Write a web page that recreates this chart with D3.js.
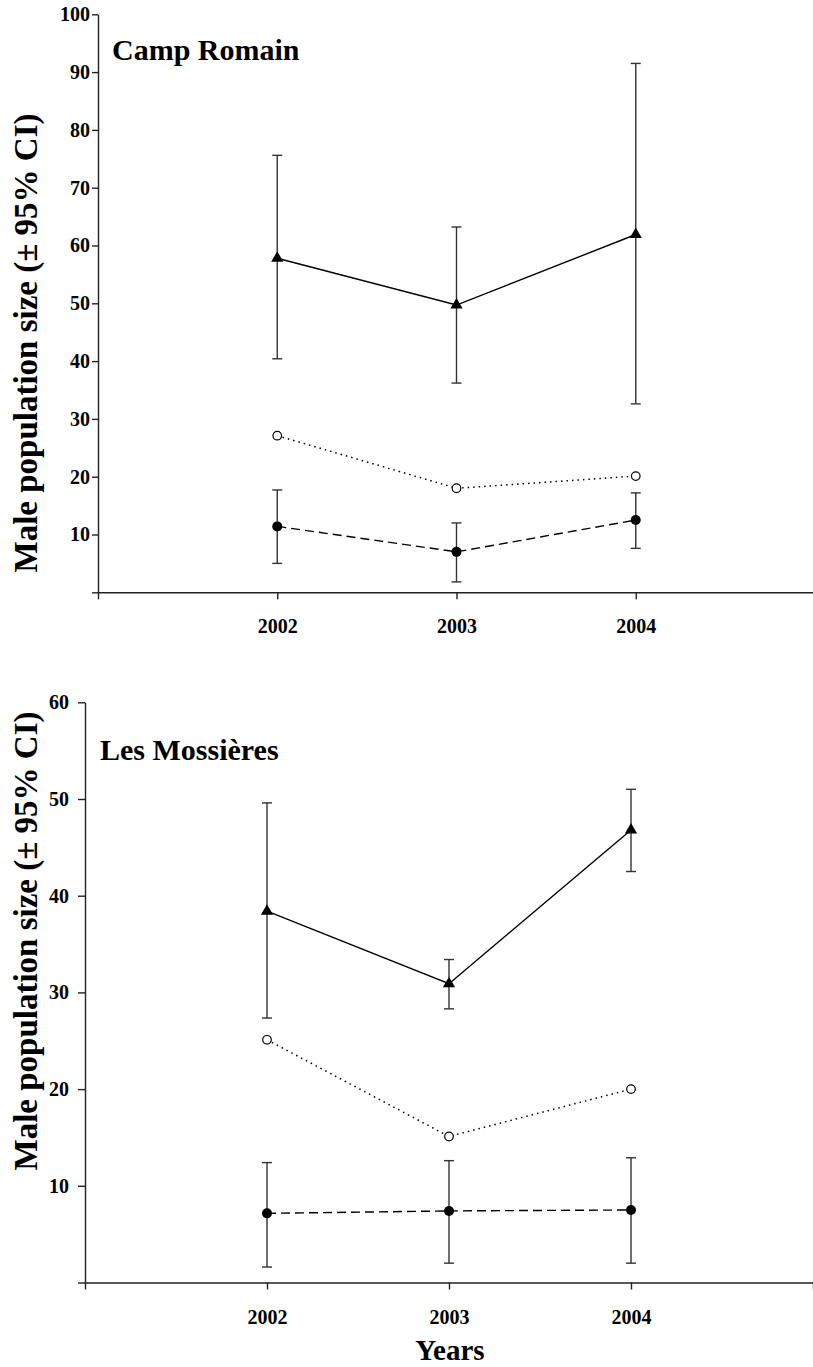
<!DOCTYPE html>
<html>
<head>
<meta charset="utf-8">
<script src="https://cdn.jsdelivr.net/npm/d3@7"></script>
<style>
  html, body { margin: 0; padding: 0; background: #fff; }
  svg { display: block; }
  text { font-family: "Liberation Serif", "Times New Roman", "DejaVu Serif", serif; font-weight: bold; fill: #000; }
</style>
</head>
<body>
<svg id="chart" width="813" height="1367"></svg>
<script>
// ---------- data ----------
const years = [2002, 2003, 2004];
const yearTickLabels = ["2002", "2003", "2004"];

// Camp Romain
const campTitle = "Camp Romain";
const campTri = [57.8, 49.7, 61.9];
const campTriLo = [40.4, 36.2, 32.6];
const campTriHi = [75.6, 63.2, 91.5];
const campOpen = [27.1, 18.0, 20.1];
const campFill = [11.4, 7.0, 12.5];
const campFillLo = [5.0, 1.8, 7.6];
const campFillHi = [17.7, 12.0, 17.2];
const campYTicks = [0, 10, 20, 30, 40, 50, 60, 70, 80, 90, 100];

// Les Mossières
const mossTitle = "Les Mossières";
const mossTri = [38.4, 30.9, 46.8];
const mossTriLo = [27.35, 28.3, 42.5];
const mossTriHi = [49.6, 33.4, 51.0];
const mossOpen = [25.1, 15.1, 20.0];
const mossFill = [7.15, 7.4, 7.5];
const mossFillLo = [1.6, 2.0, 2.0];
const mossFillHi = [12.4, 12.6, 12.9];
const mossYTicks = [0, 10, 20, 30, 40, 50, 60];

const yLabel = "Male population size (± 95% CI)";
const xLabel = "Years";
const xTicks = [2001, 2002, 2003, 2004, 2005];

// ---------- drawing ----------
const svg = d3.select("#chart");

function panel(cfg) {
  const g = svg.append("g");
  const x = d3.scaleLinear().domain([2001, 2005]).range([cfg.x0, cfg.x1]);
  const y = d3.scaleLinear().domain([0, cfg.ymax]).range([cfg.y0, cfg.y1]);

  // y axis
  const yAxis = d3.axisLeft(y)
    .tickValues(cfg.yTicks)
    .tickFormat(d => d === 0 ? "" : d)
    .tickSize(cfg.yTickSize).tickSizeOuter(0).tickPadding(cfg.yPad);
  const ya = g.append("g").attr("transform", `translate(${cfg.x0},0)`).call(yAxis);
  ya.selectAll("text").style("font-size", "20px").style("font-family", null);
  ya.selectAll("line, path").attr("stroke", "#222").attr("stroke-width", 1.4);

  // x axis
  const xAxis = d3.axisBottom(x)
    .tickValues(xTicks)
    .tickFormat(d => { const i = years.indexOf(d); return i >= 0 ? yearTickLabels[i] : ""; })
    .tickSize(7).tickSizeOuter(0).tickPadding(20);
  const xa = g.append("g").attr("transform", `translate(0,${cfg.y0})`).call(xAxis);
  xa.selectAll("text").style("font-size", "20px").style("font-family", null);
  xa.selectAll("line, path").attr("stroke", "#222").attr("stroke-width", 1.4);

  const line = d3.line().x((d, i) => x(years[i])).y(d => y(d));

  // lines
  g.append("path").datum(cfg.tri).attr("d", line)
    .attr("fill", "none").attr("stroke", "#000").attr("stroke-width", 1.4);
  g.append("path").datum(cfg.open).attr("d", line)
    .attr("fill", "none").attr("stroke", "#000").attr("stroke-width", 1.5)
    .attr("stroke-dasharray", "1.5,4");
  g.append("path").datum(cfg.fill).attr("d", line)
    .attr("fill", "none").attr("stroke", "#000").attr("stroke-width", 1.4)
    .attr("stroke-dasharray", "9,5");

  // error bars
  function errBars(lo, hi) {
    const eb = g.append("g").attr("stroke", "#333").attr("stroke-width", 1.4);
    years.forEach((yr, i) => {
      const cx = x(yr);
      eb.append("line").attr("x1", cx).attr("x2", cx).attr("y1", y(lo[i])).attr("y2", y(hi[i]));
      eb.append("line").attr("x1", cx - 5).attr("x2", cx + 5).attr("y1", y(lo[i])).attr("y2", y(lo[i]));
      eb.append("line").attr("x1", cx - 5).attr("x2", cx + 5).attr("y1", y(hi[i])).attr("y2", y(hi[i]));
    });
  }
  errBars(cfg.triLo, cfg.triHi);
  errBars(cfg.fillLo, cfg.fillHi);

  // markers
  const tri = d3.symbol(d3.symbolTriangle).size(64);
  g.selectAll(".tri").data(cfg.tri).join("path")
    .attr("transform", (d, i) => `translate(${x(years[i])},${y(d)})`)
    .attr("d", tri).attr("fill", "#000");
  g.selectAll(".open").data(cfg.open).join("circle")
    .attr("cx", (d, i) => x(years[i])).attr("cy", d => y(d)).attr("r", 4.3)
    .attr("fill", "#fff").attr("stroke", "#000").attr("stroke-width", 1.2);
  g.selectAll(".fill").data(cfg.fill).join("circle")
    .attr("cx", (d, i) => x(years[i])).attr("cy", d => y(d)).attr("r", 5)
    .attr("fill", "#000");

  // title
  g.append("text").attr("x", cfg.tx).attr("y", cfg.ty)
    .style("font-size", "30px").text(cfg.title);

  // y label
  g.append("text")
    .attr("transform", `translate(37,${cfg.labelY}) rotate(-90)`)
    .attr("text-anchor", "middle")
    .style("font-size", "33px").text(yLabel);
}

panel({
  x0: 98, x1: 815, y0: 592.3, y1: 14.3, ymax: 100, yTicks: campYTicks,
  yTickSize: 6, yPad: 2,
  tri: campTri, triLo: campTriLo, triHi: campTriHi,
  open: campOpen, fill: campFill, fillLo: campFillLo, fillHi: campFillHi,
  title: campTitle, tx: 112, ty: 60, labelY: 343
});

panel({
  x0: 85, x1: 813, y0: 1282.5, y1: 702.3, ymax: 60, yTicks: mossYTicks,
  yTickSize: 7, yPad: 9,
  tri: mossTri, triLo: mossTriLo, triHi: mossTriHi,
  open: mossOpen, fill: mossFill, fillLo: mossFillLo, fillHi: mossFillHi,
  title: mossTitle, tx: 100, ty: 760, labelY: 941
});

svg.append("text").attr("x", 450).attr("y", 1360)
  .attr("text-anchor", "middle").style("font-size", "29px").text(xLabel);
</script>
</body>
</html>
